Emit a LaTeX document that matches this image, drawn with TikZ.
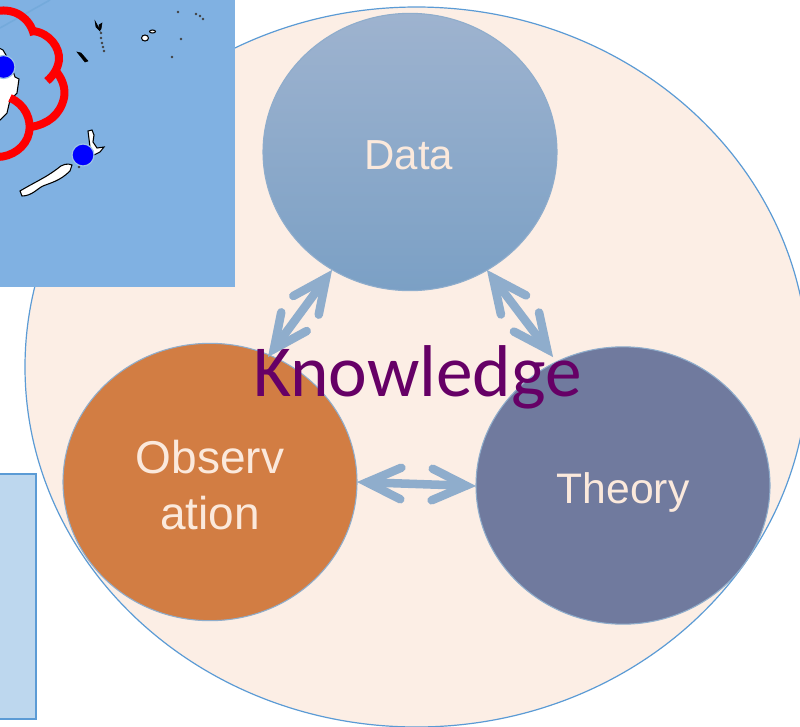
\documentclass[tikz,border=0pt]{standalone}
\usepackage{fontspec}
\setmainfont{Liberation Sans}
\newfontfamily\carl{Carlito}
\usetikzlibrary{shapes.geometric,calc}
\definecolor{edgeblue}{HTML}{5B9BD5}
\definecolor{sphere}{HTML}{FCEEE5}
\definecolor{boxblue}{HTML}{BDD7EE}
\definecolor{mapblue}{HTML}{80B1E2}
\definecolor{dtop}{HTML}{9EB3CF}
\definecolor{dbot}{HTML}{7BA0C5}
\definecolor{obsc}{HTML}{D27D43}
\definecolor{theoc}{HTML}{707A9E}
\definecolor{arrowc}{HTML}{8FADCC}
\definecolor{labelc}{HTML}{FBE9DC}
\definecolor{knowc}{HTML}{660066}
\newcommand{\dblarrow}[2]{%
  \coordinate (va) at ($(#1)!7.5pt!(#2)$);
  \coordinate (vb) at ($(#2)!7.5pt!(#1)$);
  \draw[link] (va) -- (vb);
  \draw[link] ($(va)!28pt!25:(vb)$) -- (va) -- ($(va)!28pt!-25:(vb)$);
  \draw[link] ($(vb)!28pt!25:(va)$) -- (vb) -- ($(vb)!28pt!-25:(va)$);
}
\tikzset{
  x=0.75pt,y=-0.75pt,
  topic/.style={ellipse,draw=arrowc,line width=0.8pt,inner sep=0pt,minimum width=220.5pt,minimum height=208pt},
  topiclabel/.style={text=labelc,inner sep=0pt,align=center},
  link/.style={draw=arrowc,line width=6.4pt,line cap=round,line join=miter,miter limit=10},
  red cloud/.style={draw=red,line width=6pt},
  land/.style={fill=white,draw=black,line width=0.8pt},
  dark/.style={fill=black,draw=black,line width=0.4pt},
  dotc/.style={fill=blue,draw=edgeblue!60,line width=0.9pt}
}
\begin{document}
\begin{tikzpicture}
\useasboundingbox (0,0) rectangle (800,726);
\clip (0,0) rectangle (800,726);
\node[ellipse,draw=edgeblue,line width=0.9pt,fill=sphere,inner sep=0pt,minimum width=587.25pt,minimum height=540pt] (outer) at (416.5,367) {};
\fill[boxblue,draw=edgeblue,line width=1pt] (-5,474) rectangle (36,719);
% map
\fill[mapblue] (0,0) rectangle (235,287);
\draw[edgeblue!85!white,line width=1.2pt] (0,28) -- (50,0);
\path[land] (-3,47) -- (3,50) -- (10,62) -- (15,77) -- (19,79) -- (17,93) -- (10,100) -- (7,113) -- (0,120) -- (-3,120) -- cycle;
\path[land] (20,191) .. controls (35,182) and (45,178) .. (57,169) .. controls (62,164) and (68,163) .. (72,165) -- (70,171) .. controls (60,181) and (50,183) .. (43,186) .. controls (38,188) and (32,196) .. (22,196) -- cycle;
\path[land] (88,131) -- (92,130) -- (94,135) -- (93,142) -- (97,148) -- (104,147) -- (100,152) -- (94,155) -- (90,147) -- cycle;
\path[dark] (77,52) -- (81,53) -- (88,61) -- (85,62) -- cycle;
\path[dark] (95,21) -- (96,27) -- (100,31) -- (99,25) -- (102,23) -- (101,29) -- (100,30) -- cycle;
\foreach \p in {(101,33),(101,38),(102,43),(103,47),(104,51),(79,167),(178,12),(196,14),(200,16),(203,19),(181,39),(172,57)}
  \fill[black!75] \p circle (1pt);
\path[land] (145,38) circle[x radius=3.5,y radius=3];
\path[land] (152.5,31.5) circle[x radius=3,y radius=1.5];
% red cloud
\draw[red cloud] (-3,11) .. controls (15,8) and (30,18) .. (34,35);
\draw[red cloud] (33,31) .. controls (50,33) and (60,48) .. (59,60) .. controls (58,68) and (54,75) .. (47,81);
\draw[red cloud] (55,70) .. controls (62,78) and (66,88) .. (64,98) .. controls (60,115) and (48,124) .. (31,127);
\draw[red cloud] (10,98) .. controls (25,104) and (32,120) .. (29,133) .. controls (26,147) and (12,157) .. (-3,157);
\path[dotc] (3.5,67) circle (11.5);
\path[dotc] (83,155) circle (11);
% topics
\node[topic,top color=dtop,bottom color=dbot] (data) at (410,152) {};
\node[topic,fill=obsc] (obs) at (210,482) {};
\node[topic,fill=theoc] (theory) at (623,485.5) {};
\node[topiclabel,font=\fontsize{31.5}{42}\selectfont] (dataL) at (409,155) {Data};
\node[topiclabel,font=\fontsize{34.5}{42}\selectfont] (obsL) at (210,485) {Observ\\ation};
\node[topiclabel,font=\fontsize{32}{42}\selectfont] (theoryL) at (623,492) {Theory};
\coordinate (dl) at (332,270);
\coordinate (ol) at (268,357);
\coordinate (dr) at (487,270);
\coordinate (tl) at (553,357);
\coordinate (or) at (357,482);
\coordinate (tr) at (476,486);
\dblarrow{dl}{ol}
\dblarrow{dr}{tl}
\dblarrow{or}{tr}
\node[text=knowc,font=\carl\fontsize{55}{60}\selectfont,inner sep=0pt] (know) at (417.5,377) {Knowledge};
\end{tikzpicture}
\end{document}
